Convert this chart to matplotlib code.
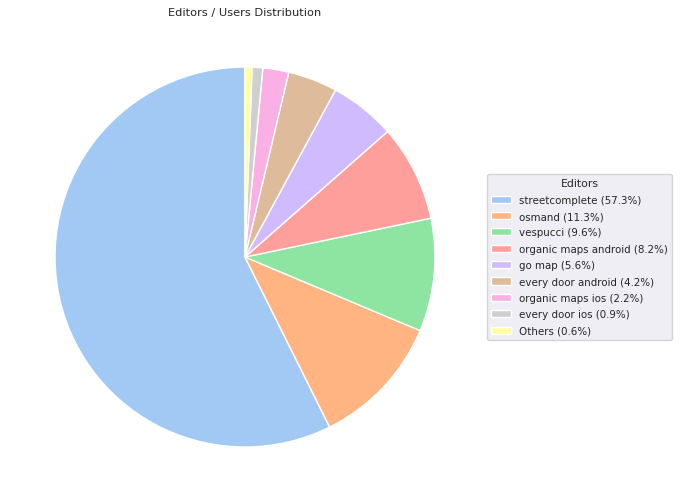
import matplotlib
matplotlib.use("Agg")
import matplotlib.pyplot as plt
import seaborn as sns

# ── Data ──────────────────────────────────────────────────────────────────────

EDITORS = ["streetcomplete", "osmand", "vespucci", "organic maps android",
           "go map", "every door android", "organic maps ios", "every door ios",
           "Others"]
SHARES = [57.3, 11.3, 9.6, 8.2, 5.6, 4.2, 2.2, 0.9, 0.6]

# ── Plot ──────────────────────────────────────────────────────────────────────

sns.set_theme(style="darkgrid")
plt.rcParams["font.family"] = ["DejaVu Sans"]

colors = sns.color_palette("pastel", len(EDITORS))
labels = [f"{name} ({pct}%)" for name, pct in zip(EDITORS, SHARES)]

fig = plt.figure(figsize=(6.8, 5.02), dpi=100)
ax = fig.add_axes([0.011, 0.013, 0.6985, 0.946])
wedges, _ = ax.pie(SHARES, colors=colors, startangle=90, counterclock=True,
                   wedgeprops=dict(edgecolor="white", linewidth=1))
ax.set_aspect("equal")
ax.set_title("Editors / Users Distribution", fontsize=8.2, pad=3.5)
ax.legend(wedges, labels, title="Editors", loc="center left",
          bbox_to_anchor=(1.0, 0.5), fontsize=7.4, title_fontsize=7.8,
          labelspacing=0.62, handlelength=2.0, handletextpad=0.8,
          borderaxespad=0.4)

fig.savefig("out.png", dpi=100)
plt.close(fig)
